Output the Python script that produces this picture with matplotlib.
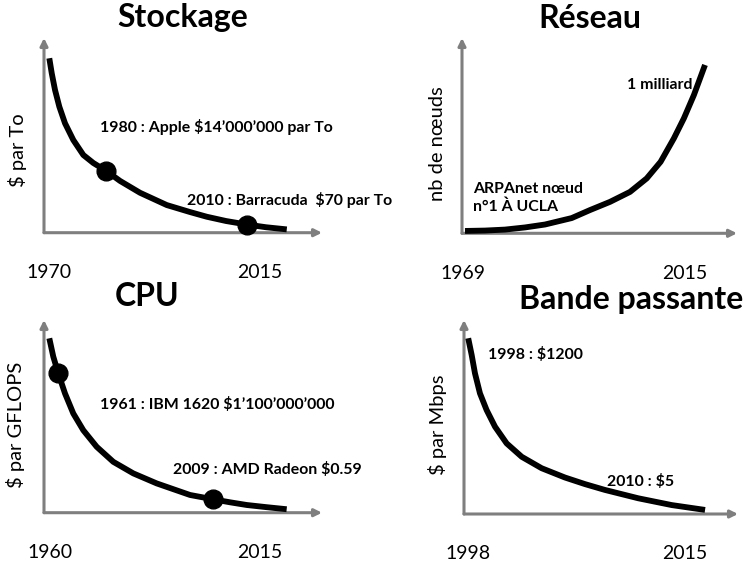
import matplotlib
matplotlib.use("Agg")
import matplotlib.pyplot as plt

plt.rcParams['font.family'] = ['Lato', 'DejaVu Sans']

W, H = 751, 563
GRAY = '#7f7f7f'

# ---------------- data (schematic) ----------------
# Stockage
sto_years = [1970.06, 1970.58, 1971.28, 1972.20, 1973.41, 1975.18, 1977.32,
             1979.45, 1982.16, 1985.14, 1989.41, 1995.10, 2000.07, 2003.63,
             2007.75, 2012.16, 2016.28, 2020.69]
sto_vals = [89.6, 81.9, 73.3, 64.7, 56.2, 47.6, 39.9, 35.8, 31.8, 26.6, 20.5,
            14.2, 10.6, 8.2, 6.0, 4.2, 2.8, 1.7]
sto_dot_years = [1982.16, 2012.16]
sto_dot_vals = [31.8, 4.2]
sto_ticks = [1970, 2015]

# Réseau
net_years = [1969.41, 1973.56, 1977.70, 1981.84, 1985.99, 1991.52, 1995.31,
             1999.46, 2003.60, 2007.06, 2009.94, 2012.69, 2014.77, 2016.84,
             2019.14]
net_vals = [1.2, 1.4, 1.9, 3.0, 4.5, 7.8, 11.9, 16.1, 21.2, 28.1, 36.6, 48.6,
            58.9, 70.8, 86.2]
net_ticks = [1969, 2015]

# CPU
cpu_years = [1959.82, 1960.86, 1962.17, 1963.93, 1966.10, 1968.72, 1972.23,
             1976.58, 1981.82, 1987.95, 1992.74, 1996.67, 2002.61, 2007.14,
             2011.52, 2016.57, 2021.99]
cpu_vals = [90.5, 81.0, 72.3, 61.9, 51.5, 42.8, 34.2, 26.4, 20.4, 15.2, 11.9,
            9.2, 7.0, 5.4, 4.0, 2.9, 1.8]
cpu_dot_years = [1962.17, 2002.61]
cpu_dot_vals = [72.3, 7.0]
cpu_ticks = [1960, 2015]

# Bande passante
bw_years = [1998.02, 1998.29, 1998.55, 1998.94, 1999.46, 2000.12, 2001.03,
            2002.21, 2003.77, 2005.60, 2007.17, 2008.73, 2011.34, 2013.96,
            2016.57]
bw_vals = [90.6, 82.0, 72.5, 62.2, 53.6, 45.0, 36.4, 29.5, 23.6, 18.8, 15.4,
           12.4, 8.1, 4.6, 2.1]
bw_ticks = [1998, 2015]

fig = plt.figure(figsize=(W / 100, H / 100), dpi=100)


def make_ax(px_left, px_bottom_y, px_right, px_top_y, xlim):
    ax = fig.add_axes([px_left / W, (H - px_bottom_y) / H,
                       (px_right - px_left) / W, (px_bottom_y - px_top_y) / H])
    ax.set_xlim(*xlim)
    ax.set_ylim(0, 100)
    for s in ax.spines.values():
        s.set_visible(False)
    ax.set_yticks([])
    ax.tick_params(axis='x', length=0, pad=22.5, labelsize=14)
    arrow = dict(arrowstyle='-|>', color=GRAY, lw=2.2, mutation_scale=11,
                 shrinkA=0, shrinkB=0)
    ax.annotate('', xy=(1, 0), xytext=(0, 0), xycoords='axes fraction',
                arrowprops=arrow, annotation_clip=False)
    ax.annotate('', xy=(0, 1), xytext=(0, 0), xycoords='axes fraction',
                arrowprops=arrow, annotation_clip=False)
    return ax


def finish(ax, ticks, ylabel, ylab_x, ylab_y, title, tx, ty):
    ax.set_xticks(ticks)
    ax.set_xticklabels([str(t) for t in ticks])
    ax.set_ylabel(ylabel, fontsize=14.5, va='center')
    ax.yaxis.set_label_coords(ylab_x, ylab_y)
    ax.set_title(title, fontsize=23, fontweight='bold', x=tx, y=ty,
                 va='baseline')


curve = dict(color='black', lw=4.2, solid_capstyle='butt',
             solid_joinstyle='round', clip_on=False, zorder=3)
dot = dict(color='black', marker='o', ms=13.5, ls='none', clip_on=False,
           zorder=4)
ann = dict(fontsize=11.4, fontweight='bold', ha='left', va='center')

# Panel 1 : Stockage
ax1 = make_ax(44, 232.7, 322, 38, (1968.93, 2028.2))
ax1.plot(sto_years, sto_vals, **curve)
ax1.plot(sto_dot_years, sto_dot_vals, **dot)
ax1.text(1980.9, 54.3, '1980 : Apple $14’000’000 par To', **ann)
ax1.text(1999.4, 16.8, '2010 : Barracuda  $70 par To', **ann)
finish(ax1, sto_ticks, '$ par To', -0.097, 0.425, 'Stockage', 0.5, 1.015)

# Panel 2 : Réseau
ax2 = make_ax(462, 233.3, 737, 38, (1968.79, 2025.77))
ax2.plot(net_years, net_vals, **curve)
ax2.text(2002.98, 75.9, '1 milliard', **ann)
ax2.text(1971.07, 18.3, 'ARPAnet nœud\nn°1 À UCLA', linespacing=1.3, **ann)
finish(ax2, net_ticks, 'nb de nœuds', -0.09, 0.46, 'Réseau', 0.465, 1.010)

# Panel 3 : CPU
ax3 = make_ax(44, 512.7, 322, 320, (1958.43, 2031.24))
ax3.plot(cpu_years, cpu_vals, **curve)
ax3.plot(cpu_dot_years, cpu_dot_vals, **dot)
ax3.text(1973.1, 56.4, '1961 : IBM 1620 $1’100’000’000', **ann)
ax3.text(1992.2, 22.2, '2009 : AMD Radeon $0.59', **ann)
finish(ax3, cpu_ticks, '$ par GFLOPS', -0.104, 0.456, 'CPU', 0.37, 1.031)

# Panel 4 : Bande passante
ax4 = make_ax(464, 514, 738, 320, (1997.69, 2019.15))
ax4.plot(bw_years, bw_vals, **curve)
ax4.text(1999.57, 82.0, '1998 : $1200', **ann)
ax4.text(2008.9, 17.0, '2010 : $5', **ann)
finish(ax4, bw_ticks, '$ par Mbps', -0.095, 0.46, 'Bande passante', 0.609,
       1.015)

fig.savefig('out.png', dpi=100)
